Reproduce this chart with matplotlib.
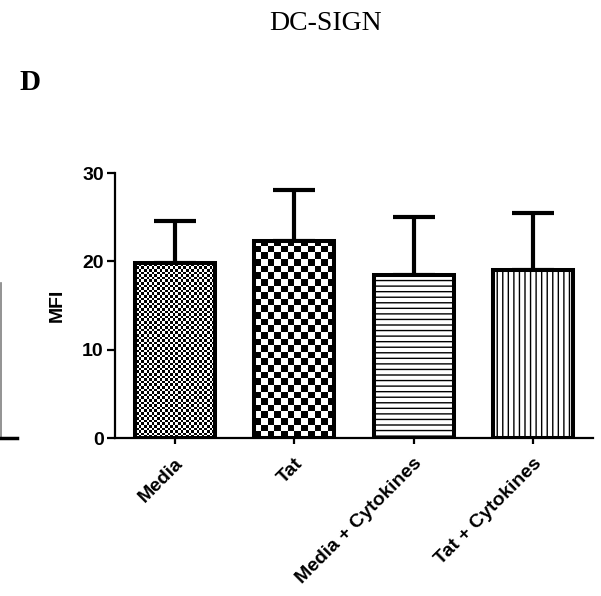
import matplotlib.pyplot as plt
import numpy as np
from matplotlib.lines import Line2D

# data
groups = ['Media', 'Tat', 'Media + Cytokines', 'Tat + Cytokines']
mfi_mean = [19.8, 22.3, 18.4, 19.0]
mfi_sd = [4.8, 5.8, 6.6, 6.5]
y_ticks = [0, 10, 20, 30]

sans = 'Liberation Sans'
serif = 'Liberation Serif'

fig = plt.figure(figsize=(6.01, 5.96), dpi=100)
ax = fig.add_axes([0.1913, 0.2651, 0.7953, 0.4446])

x = np.arange(len(groups))
bars = ax.bar(x, mfi_mean, width=0.67, color='white', edgecolor='black',
              linewidth=2.9, zorder=3)

# horizontal / vertical line fills
bars[2].set_hatch('---')
bars[3].set_hatch('|||')

ax.set_xlim(-0.5, 3.5)
ax.set_ylim(0, 30)

# checkerboard fills clipped to the first two bars
def checker(nx, ny):
    i, j = np.indices((ny, nx))
    return (i + j) % 2

for bar, (nx, ny) in zip(bars[:2], [(184, 102), (72, 40)]):
    bar.set_facecolor('none')
    im = ax.imshow(checker(nx, ny), cmap='gray', interpolation='nearest',
                   extent=(-0.5, 3.5, 0, 30), aspect='auto', zorder=2)
    im.set_clip_path(bar)

ax.set_xlim(-0.5, 3.5)
ax.set_ylim(0, 30)

ax.errorbar(x, mfi_mean, yerr=[np.zeros(len(x)), mfi_sd], fmt='none',
            ecolor='black', elinewidth=3, capsize=15, capthick=3, zorder=1)

for s in ['top', 'right']:
    ax.spines[s].set_visible(False)
for s in ['left', 'bottom']:
    ax.spines[s].set_linewidth(1.6)

ax.set_yticks(y_ticks)
ax.set_xticks(x)
ax.set_yticklabels([str(v) for v in y_ticks], fontfamily=sans,
                   fontweight='bold', fontsize=14)
ax.set_xticklabels(groups, rotation=45, ha='right', rotation_mode='anchor',
                   fontfamily=sans, fontweight='bold', fontsize=14)
ax.tick_params(axis='y', direction='out', length=6, width=1.6, pad=2)
ax.tick_params(axis='x', direction='out', length=4, width=1.6, pad=8)
ax.set_ylabel('MFI', fontfamily=sans, fontweight='bold', fontsize=14,
              labelpad=12)

fig.text(0.541, 0.96, 'DC-SIGN', fontfamily=serif, fontsize=20,
         ha='center', va='center')
fig.text(0.033, 0.849, 'D', fontfamily=serif, fontweight='bold',
         fontsize=21, ha='left', va='baseline')

# edge of the neighbouring panel
fig.add_artist(Line2D([0.001, 0.001], [1 - 283 / 596, 1 - 438 / 596],
                      color='gray', linewidth=1.2))
fig.add_artist(Line2D([0, 17 / 601], [1 - 438 / 596, 1 - 438 / 596],
                      color='black', linewidth=2.5))

fig.savefig('out.png', dpi=100)
